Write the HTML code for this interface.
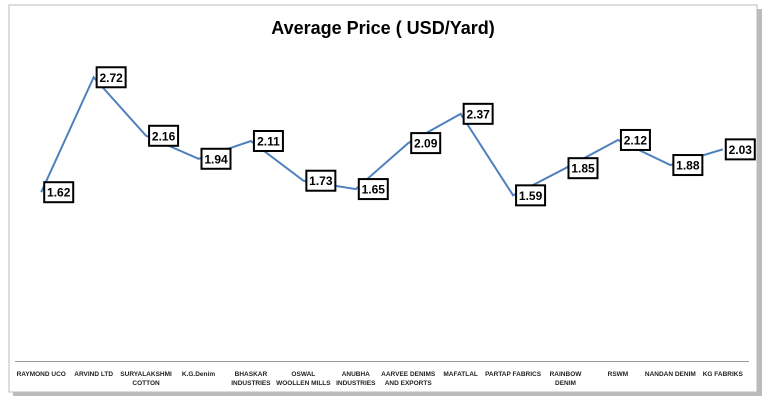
<!DOCTYPE html>
<html><head><meta charset="utf-8"><style>
body{margin:0;background:#fff;width:768px;height:403px;overflow:hidden;font-family:"Liberation Sans",sans-serif}
</style></head><body>
<svg width="768" height="403">
<rect x="13" y="9" width="749" height="387" fill="#555" opacity="0.4"/>
<rect x="9" y="5" width="748" height="387" fill="#fff" stroke="#bbb" stroke-width="1"/>
<text x="383" y="34" text-anchor="middle" font-size="18" font-weight="bold" fill="#000">Average Price ( USD/Yard)</text>
<line x1="15" y1="361.5" x2="749" y2="361.5" stroke="#999" stroke-width="1"/>
<g id="plot"></g>
</svg>
<script>
const categories=[["RAYMOND UCO"],["ARVIND LTD"],["SURYALAKSHMI","COTTON"],["K.G.Denim"],["BHASKAR","INDUSTRIES"],["OSWAL","WOOLLEN MILLS"],["ANUBHA","INDUSTRIES"],["AARVEE DENIMS","AND EXPORTS"],["MAFATLAL"],["PARTAP FABRICS"],["RAINBOW","DENIM"],["RSWM"],["NANDAN DENIM"],["KG FABRIKS"]];
const values=[1.62,2.72,2.16,1.94,2.11,1.73,1.65,2.09,2.37,1.59,1.85,2.12,1.88,2.03];
const valueLabels=["1.62","2.72","2.16","1.94","2.11","1.73","1.65","2.09","2.37","1.59","1.85","2.12","1.88","2.03"];
const NS="http://www.w3.org/2000/svg";
const g=document.getElementById('plot');
const x0=15,x1=749,bw=(x1-x0)/categories.length;
const xs=i=>x0+bw*(i+0.5);
const ys=v=>361.5-v*104.5;
const line=document.createElementNS(NS,'polyline');
line.setAttribute('points',values.map((v,i)=>xs(i)+','+ys(v)).join(' '));
line.setAttribute('fill','none');line.setAttribute('stroke','#4f81bd');line.setAttribute('stroke-width','2');


g.appendChild(line);
values.forEach((v,i)=>{
  const bx=xs(i)+3,by=ys(v)-10;
  const r=document.createElementNS(NS,'rect');
  r.setAttribute('x',bx);r.setAttribute('y',by);r.setAttribute('width',29);r.setAttribute('height',20);
  r.setAttribute('fill','#fff');r.setAttribute('stroke','#000');r.setAttribute('stroke-width','2');
  
  
  g.appendChild(r);
  const t=document.createElementNS(NS,'text');
  t.setAttribute('x',bx+14.5);t.setAttribute('y',by+14.5);t.setAttribute('text-anchor','middle');
  t.setAttribute('font-size','12');t.setAttribute('font-weight','bold');
  t.textContent=valueLabels[i];
  
  
  g.appendChild(t);
  categories[i].forEach((ln,k)=>{
    const c=document.createElementNS(NS,'text');
    c.setAttribute('x',xs(i));c.setAttribute('y',376+k*9);c.setAttribute('text-anchor','middle');
    c.setAttribute('font-size','6.5');c.setAttribute('font-weight','bold');c.setAttribute('fill','#222');
    c.textContent=ln;
    
    
    g.appendChild(c);
  });
});
</script>
</body></html>
